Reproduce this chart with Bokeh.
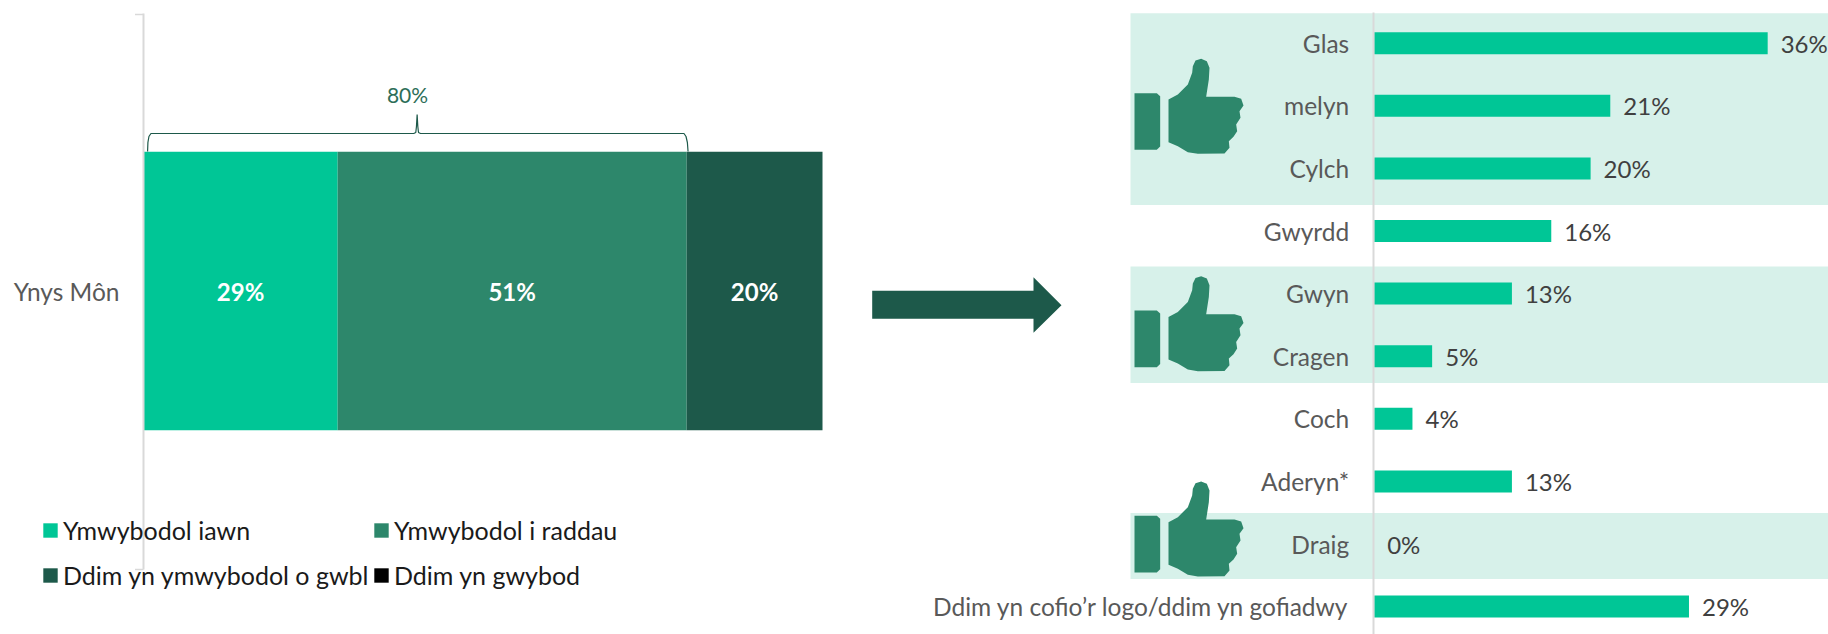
from bokeh.plotting import figure
from bokeh.models import (Range1d, LinearAxis, FixedTicker, Legend, LegendItem, ColumnDataSource)
from bokeh.core.properties import value
from bokeh.embed import file_html
from bokeh.resources import INLINE

# ---- data ----
area = ["Ynys Môn"]
series = ["Ymwybodol iawn", "Ymwybodol i raddau", "Ddim yn ymwybodol o gwbl", "Ddim yn gwybod"]
stack_values = [28.6, 51.4, 20.0, 0.0]
stack_labels = ["29%", "51%", "20%"]
brace_label = "80%"

logos = ["Glas", "melyn", "Cylch", "Gwyrdd", "Gwyn", "Cragen", "Coch", "Aderyn*", "Draig",
         "Ddim yn cofio’r logo/ddim yn gofiadwy"]
logo_values = [36.0, 21.6, 19.8, 16.2, 12.6, 5.3, 3.5, 12.6, 0.0, 28.8]
logo_labels = ["36%", "21%", "20%", "16%", "13%", "5%", "4%", "13%", "0%", "29%"]

# ---- style ----
FONT = "Lato"
C1, C2, C3, C4 = "#00C696", "#2D876B", "#1D594A", "#000000"
BAND = "#D7F1EA"
AXIS = "#D9D9D9"
TEXT = "#595959"
W, H = 1828, 634

# page-unit layout constants
SX0, SPX = 143, 6.79      # stacked bar: zero position and px per percent
SY0, SPY = 290.5, 555     # stacked bar: centre and px per unit
RX0, RPX = 1373.7, 10.93  # logos: zero position and px per percent
RY0, RPY = 42.7, 62.6     # logos: first row and row pitch

p = figure(width=W, height=H, output_backend="svg", toolbar_location=None,
           x_range=Range1d(1, W + 1), y_range=Range1d(H + 1, 1),
           x_axis_location=None, y_axis_location=None, min_border=0,
           min_border_left=0, min_border_right=0, min_border_top=0, min_border_bottom=0,
           outline_line_color=None, background_fill_color=None, border_fill_color=None)
p.grid.visible = False
p.extra_x_ranges = {"sx": Range1d(-SX0 / SPX, (W - SX0) / SPX),
                    "rx": Range1d(-RX0 / RPX, (W - RX0) / RPX)}
p.extra_y_ranges = {"sy": Range1d(-(H - SY0) / SPY, SY0 / SPY),
                    "ry": Range1d((H - RY0) / RPY, -RY0 / RPY)}

# ---- left: stacked bar ----
src = ColumnDataSource(dict(y=[0], **{s: [v] for s, v in zip(series, stack_values)}))
rs = p.hbar_stack(series, y="y", height=0.502, color=[C1, C2, C3, C4], source=src, line_color=None,
                  x_range_name="sx", y_range_name="sy")

lax = LinearAxis(ticker=FixedTicker(ticks=[0]), major_label_overrides={0: area[0]},
                 y_range_name="sy", fixed_location=SX0 + 1, bounds=(-0.501, 0.5),
                 axis_line_color=AXIS, axis_line_width=2, major_tick_line_color=None,
                 major_tick_out=0, major_tick_in=0, minor_tick_line_color=None,
                 major_label_text_font=FONT, major_label_text_font_size="24.5px",
                 major_label_text_color=TEXT, major_label_standoff=24)
p.add_layout(lax, "left")
# short end ticks of the category axis
p.segment(x0=[135.5, 135.5], x1=[144, 144], y0=[15, 570], y1=[15, 570], line_color=AXIS, line_width=1.5)

mids, acc = [], 0
for v in stack_values[:3]:
    mids.append(acc + v / 2)
    acc += v
p.text(x=mids, y=[0] * 3, text=stack_labels, x_range_name="sx", y_range_name="sy", text_color="white",
       text_font=value(FONT), text_font_style="bold", text_font_size="24px", text_align="center",
       text_baseline="middle")

# brace over the first two segments
b1 = stack_values[0] + stack_values[1]
mid = b1 / 2 + 0.3
bx = [0.6, 0.65, 0.8, 1.1, mid - 0.5, mid - 0.2, mid - 0.1, mid, mid + 0.1, mid + 0.2, mid + 0.5,
      b1 - 0.4, b1 - 0.1, b1 + 0.1, b1 + 0.2]
by = [152, 143, 137, 134, 134, 133, 127, 115, 127, 133, 134, 134, 137, 143, 152]
p.line([SX0 + 1 + a * SPX for a in bx], by, line_color=C3, line_width=1.2)
p.text(x=[408], y=[95], text=[brace_label], text_color="#2D6E58",
       text_font=value(FONT), text_font_size="21px", text_align="center", text_baseline="middle")

# arrow
p.patch([872.7, 1034, 1034, 1062, 1034, 1034, 872.7],
        [291.3, 291.3, 277.7, 305.7, 333.3, 319.3, 319.3], color=C3, line_width=0)

LEG = dict(background_fill_alpha=0, border_line_color=None, glyph_width=18, glyph_height=18,
           label_standoff=4, spacing=15, margin=0, padding=0, label_text_font=FONT,
           label_text_font_size="25px", label_text_color="#1a1a1a", label_height=25)
p.add_layout(Legend(items=[LegendItem(label=value(series[i]), renderers=[rs[i]]) for i in (0, 2)],
                    location=(41, 44), **LEG), "center")
p.add_layout(Legend(items=[LegendItem(label=value(series[i]), renderers=[rs[i]]) for i in (1, 3)],
                    location=(372, 44), **LEG), "center")

# ---- right: logos ----
rows = list(range(len(logos)))
p.quad(left=[1131] * 3, right=[W + 1] * 3, top=[13.7, 267, 513.5], bottom=[205.4, 383.5, 579.5],
       color=BAND, line_width=0, level="underlay")

cuff = [(75, 281), (142, 281), (152, 290), (152, 441), (142, 451), (75, 451)]
hand = [(177, 300), (205, 285), (235, 255), (248, 220), (250, 200), (258, 183), (275, 178), (292, 185),
        (300, 205), (298, 240), (290, 292), (375, 292), (395, 298), (402, 318), (390, 335), (393, 355),
        (380, 375), (383, 395), (372, 412), (358, 425), (360, 445), (345, 462), (265, 463), (235, 458),
        (205, 440), (177, 428)]
for dy in (0, 217.4, 422.7):
    for shape in (cuff, hand):
        p.patch([1110 + a / 3 for a, _ in shape], [b / 3 + dy for _, b in shape], color=C2, line_width=0)

p.hbar(y=rows, right=logo_values, left=0, height=0.351, color=C1, line_color=None,
       x_range_name="rx", y_range_name="ry")
p.text(x=logo_values, y=rows, text=logo_labels, x_offset=13, y_offset=0, text_color="#404040",
       x_range_name="rx", y_range_name="ry",
       text_font=value(FONT), text_font_size="24px", text_align="left", text_baseline="middle")

rax = LinearAxis(ticker=FixedTicker(ticks=rows),
                 major_label_overrides={i: s for i, s in enumerate(logos)},
                 y_range_name="ry", fixed_location=1373.7, bounds=(-0.49, 9.45),
                 axis_line_color=AXIS, axis_line_width=2,
                 major_tick_line_color=None, major_tick_out=0, major_tick_in=0, minor_tick_line_color=None,
                 major_label_text_font=FONT, major_label_text_font_size="24.5px",
                 major_label_text_color=TEXT, major_label_standoff=24)
p.add_layout(rax, "left")

open("out.html", "w").write(file_html(p, INLINE))
